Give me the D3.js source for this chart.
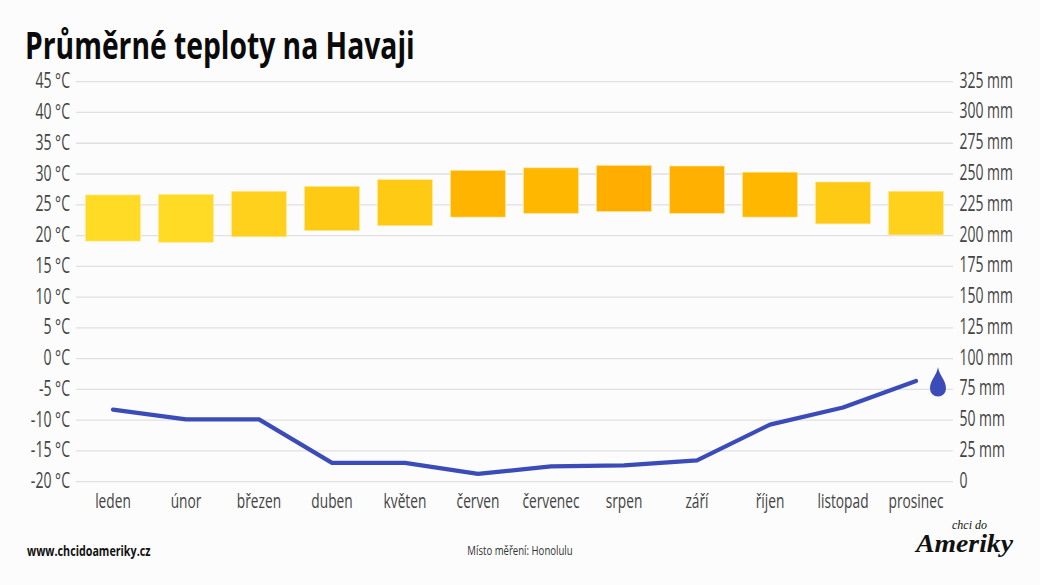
<!DOCTYPE html>
<html><head><meta charset="utf-8">
<script src="https://cdn.jsdelivr.net/npm/d3@7/dist/d3.min.js"></script>
<style>html,body{margin:0;padding:0;background:#fcfcfc}svg{display:block}text{font-family:"Open Sans",sans-serif}</style>
</head><body><svg id="c" width="1040" height="585"></svg>
<script>
const months=["leden","únor","březen","duben","květen","červen","červenec","srpen","září","říjen","listopad","prosinec"];
const tempHigh=[26.6,26.7,27.2,28.0,29.1,30.6,31.0,31.4,31.3,30.3,28.7,27.2];
const tempLow=[19.1,18.9,19.8,20.8,21.6,23.0,23.6,23.9,23.6,23.0,21.9,20.1];
const rainfall=[58.6,50.6,50.6,15.3,15.3,6.4,12.4,13.3,17.3,46.4,60.3,81.8];
const barColors=["#ffdb26","#ffdb26","#ffd11c","#ffca14","#ffca14","#ffb400","#ffb700","#ffae00","#ffb000","#ffb700","#ffca14","#ffd11c"];
const tempTicks=d3.range(-20,46,5);
const rainTicks=d3.range(0,326,25);
const svg=d3.select("#c");
const x=d3.scaleBand().domain(months).range([76.5,952.5]);
const yT=d3.scaleLinear().domain([-20,45]).range([481.7,81.7]);
const yR=d3.scaleLinear().domain([0,325]).range([481.7,81.7]);
const cond=(sel,k)=>sel.attr("transform",function(){const a=d3.select(this);return `translate(${a.attr("data-x")},${a.attr("data-y")}) scale(${k},1)`});
svg.append("g").selectAll("line").data(tempTicks).join("line")
 .attr("x1",76).attr("x2",953).attr("y1",d=>yT(d)).attr("y2",d=>yT(d)).attr("stroke","#e0e0e0").attr("stroke-width",1.3);
svg.append("g").selectAll("text").data(tempTicks).join("text")
 .attr("data-x",70).attr("data-y",d=>yT(d)+6.5).attr("text-anchor","end").attr("font-size",21).attr("fill","#444")
 .text(d=>d+" °C").call(cond,0.67);
svg.append("g").selectAll("text").data(rainTicks).join("text")
 .attr("data-x",959.5).attr("data-y",d=>yR(d)+6).attr("font-size",21).attr("fill","#444")
 .text(d=>d===0?"0":d+" mm").call(cond,0.665);
svg.append("g").selectAll("text").data(months).join("text")
 .attr("data-x",d=>x(d)+x.bandwidth()/2).attr("data-y",508).attr("text-anchor","middle").attr("font-size",20.5).attr("fill","#444")
 .text(d=>d).call(cond,0.67);
svg.append("g").selectAll("rect").data(months).join("rect")
 .attr("x",d=>x(d)+x.bandwidth()/2-27.5).attr("width",55)
 .attr("y",(d,i)=>yT(tempHigh[i])).attr("height",(d,i)=>yT(tempLow[i])-yT(tempHigh[i]))
 .attr("fill",(d,i)=>barColors[i]).attr("stroke","#ffe9a0").attr("stroke-width",0.6);
const line=d3.line().x((d,i)=>x(months[i])+x.bandwidth()/2).y(d=>yR(d));
svg.append("path").datum(rainfall).attr("d",line).attr("fill","none").attr("stroke","#3b4cb8").attr("stroke-width",4.2).attr("stroke-linecap","round").attr("stroke-linejoin","round");
const last=yR(rainfall[11]);
const dx=x(months[11])+x.bandwidth()/2+22;
svg.append("path").attr("transform",`translate(${dx},${last-14})`)
 .attr("d","M0,0C1.5,9 8,13 8,21.5A8,8 0 0 1 -8,21.5C-8,13 -1.5,9 0,0Z").attr("fill","#3b4cb8");
svg.append("text").attr("data-x",25).attr("data-y",59).attr("font-size",37).attr("font-weight",700).attr("fill","#0a0a0a")
 .text("Průměrné teploty na Havaji").call(cond,0.764);
svg.append("text").attr("data-x",27).attr("data-y",556).attr("font-size",13.5).attr("font-weight",700).attr("fill","#111")
 .text("www.chcidoameriky.cz").call(cond,0.795);
svg.append("text").attr("data-x",520).attr("data-y",555).attr("text-anchor","middle").attr("font-size",12).attr("fill","#333")
 .text("Místo měření: Honolulu").call(cond,0.8);
svg.append("text").attr("x",952).attr("y",529).attr("font-size",12).attr("font-style","italic").attr("style","font-family:'Liberation Serif'").attr("fill","#111").text("chci do");
svg.append("text").attr("x",916).attr("y",552).attr("font-size",25).attr("font-style","italic").attr("font-weight",700).attr("style","font-family:'Liberation Serif'").attr("fill","#111").text("Ameriky").attr("textLength",97).attr("lengthAdjust","spacingAndGlyphs");
</script></body></html>
